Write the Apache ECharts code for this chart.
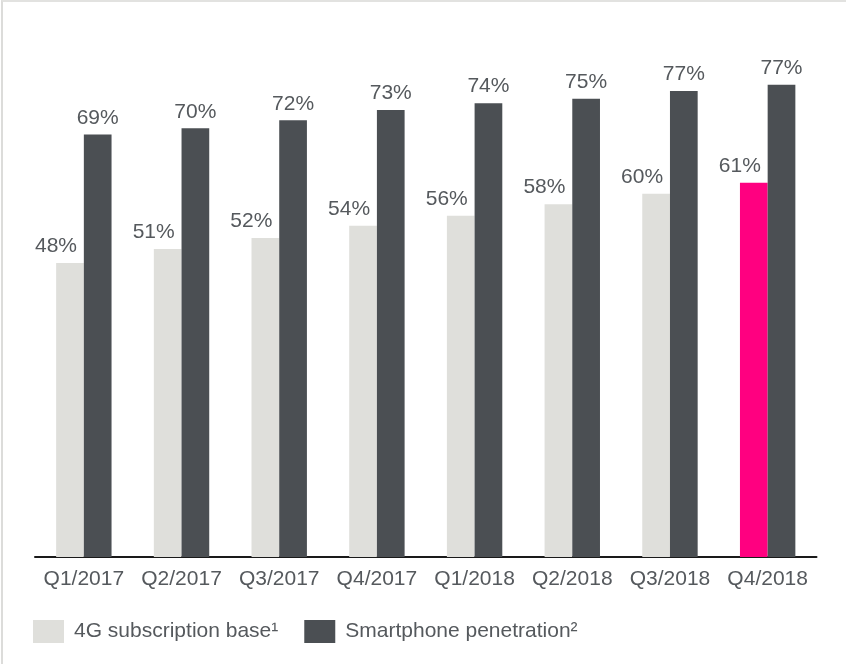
<!DOCTYPE html>
<html>
<head>
<meta charset="utf-8">
<script src="https://cdn.jsdelivr.net/npm/echarts@6/dist/echarts.min.js"></script>
<style>
  html, body { margin: 0; padding: 0; background: #fff; }
  #frame { position: absolute; left: 1px; top: 0; width: 845px; height: 664px; box-sizing: border-box; border-top: 2px solid #e2e2e0; border-left: 2px solid #dcdcda; }
  #chart { position: absolute; left: 0; top: 0; width: 846px; height: 664px; }
</style>
</head>
<body>
<div id="frame"></div>
<div id="chart"></div>
<script>
const categories = ['Q1/2017', 'Q2/2017', 'Q3/2017', 'Q4/2017', 'Q1/2018', 'Q2/2018', 'Q3/2018', 'Q4/2018'];
const subscriptionValues = [48.0, 50.3, 52.1, 54.1, 55.7, 57.6, 59.3, 61.1];
const subscriptionLabels = ['48%', '51%', '52%', '54%', '56%', '58%', '60%', '61%'];
const smartphoneValues = [69.0, 70.0, 71.3, 73.0, 74.1, 74.8, 76.1, 77.1];
const smartphoneLabels = ['69%', '70%', '72%', '73%', '74%', '75%', '77%', '77%'];
const seriesNames = ['4G subscription base\u00B9', 'Smartphone penetration\u00B2'];

const LIGHT = '#dfdfdb', DARK = '#4b4f53', PINK = '#ff0080', TEXT = '#55595d';
const FONT = 'Liberation Sans, Arial, Helvetica, sans-serif';

const chart = echarts.init(document.getElementById('chart'), null, { renderer: 'canvas' });

const subData = subscriptionValues.map((v, i) => i === subscriptionValues.length - 1
  ? { value: v, itemStyle: { color: PINK } } : v);

chart.setOption({
  animation: false,
  backgroundColor: 'transparent',
  grid: { left: 35, right: 29.5, top: 67, bottom: 107 },
  legend: {
    left: 33, top: 620, padding: 0,
    itemWidth: 31, itemHeight: 23, itemGap: 26,
    icon: 'rect',
    textStyle: { color: TEXT, fontSize: 21, fontFamily: FONT, padding: [3, 0, 0, 5] },
    data: seriesNames
  },
  xAxis: {
    type: 'category',
    data: categories,
    axisLine: { lineStyle: { color: '#1a1a1a', width: 2 } },
    axisTick: { show: false },
    axisLabel: { color: TEXT, fontSize: 21, fontFamily: FONT, margin: 12, interval: 0 }
  },
  yAxis: {
    type: 'value', min: 0, max: 80, show: false,
    splitLine: { show: false }
  },
  series: [
    {
      name: seriesNames[0], type: 'bar', data: subData,
      barWidth: 27.7, barGap: '0%',
      itemStyle: { color: LIGHT },
      label: {
        show: true, position: 'top', distance: 6, offset: [-14, 0],
        color: TEXT, fontSize: 21, fontFamily: FONT,
        formatter: p => subscriptionLabels[p.dataIndex]
      }
    },
    {
      name: seriesNames[1], type: 'bar', data: smartphoneValues,
      barWidth: 27.7, barGap: '0%',
      itemStyle: { color: DARK },
      label: {
        show: true, position: 'top', distance: 6,
        color: TEXT, fontSize: 21, fontFamily: FONT,
        formatter: p => smartphoneLabels[p.dataIndex]
      }
    }
  ]
});
</script>
</body>
</html>
